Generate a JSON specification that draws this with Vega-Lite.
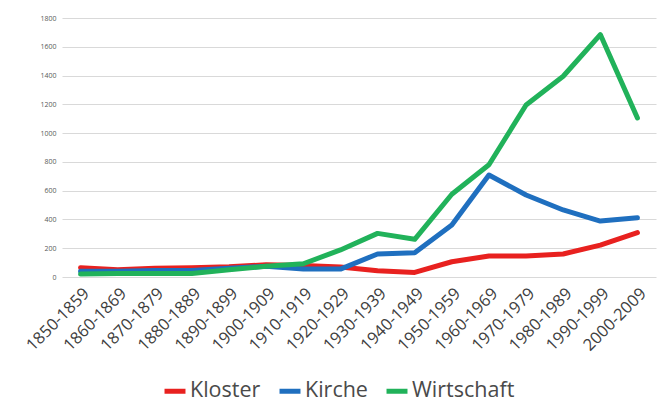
{
  "$schema": "https://vega.github.io/schema/vega-lite/v6.json",
  "width": 594,
  "height": 259,
  "autosize": {"type": "none"},
  "padding": {"left": 62, "top": 18, "right": 8, "bottom": 142},
  "background": "white",
  "config": {
    "view": {"stroke": null},
    "font": "Open Sans"
  },
  "data": {
    "values": [
      {"period": "1850-1859", "series": "Kloster", "value": 65},
      {"period": "1860-1869", "series": "Kloster", "value": 50},
      {"period": "1870-1879", "series": "Kloster", "value": 60},
      {"period": "1880-1889", "series": "Kloster", "value": 65},
      {"period": "1890-1899", "series": "Kloster", "value": 72},
      {"period": "1900-1909", "series": "Kloster", "value": 85},
      {"period": "1910-1919", "series": "Kloster", "value": 80},
      {"period": "1920-1929", "series": "Kloster", "value": 70},
      {"period": "1930-1939", "series": "Kloster", "value": 44},
      {"period": "1940-1949", "series": "Kloster", "value": 32},
      {"period": "1950-1959", "series": "Kloster", "value": 106},
      {"period": "1960-1969", "series": "Kloster", "value": 146},
      {"period": "1970-1979", "series": "Kloster", "value": 146},
      {"period": "1980-1989", "series": "Kloster", "value": 160},
      {"period": "1990-1999", "series": "Kloster", "value": 222},
      {"period": "2000-2009", "series": "Kloster", "value": 308},
      {"period": "1850-1859", "series": "Kirche", "value": 40},
      {"period": "1860-1869", "series": "Kirche", "value": 40},
      {"period": "1870-1879", "series": "Kirche", "value": 45},
      {"period": "1880-1889", "series": "Kirche", "value": 45},
      {"period": "1890-1899", "series": "Kirche", "value": 60},
      {"period": "1900-1909", "series": "Kirche", "value": 75},
      {"period": "1910-1919", "series": "Kirche", "value": 55},
      {"period": "1920-1929", "series": "Kirche", "value": 55},
      {"period": "1930-1939", "series": "Kirche", "value": 160},
      {"period": "1940-1949", "series": "Kirche", "value": 169},
      {"period": "1950-1959", "series": "Kirche", "value": 361},
      {"period": "1960-1969", "series": "Kirche", "value": 709},
      {"period": "1970-1979", "series": "Kirche", "value": 570},
      {"period": "1980-1989", "series": "Kirche", "value": 466},
      {"period": "1990-1999", "series": "Kirche", "value": 389},
      {"period": "2000-2009", "series": "Kirche", "value": 412},
      {"period": "1850-1859", "series": "Wirtschaft", "value": 20},
      {"period": "1860-1869", "series": "Wirtschaft", "value": 25},
      {"period": "1870-1879", "series": "Wirtschaft", "value": 25},
      {"period": "1880-1889", "series": "Wirtschaft", "value": 25},
      {"period": "1890-1899", "series": "Wirtschaft", "value": 50},
      {"period": "1900-1909", "series": "Wirtschaft", "value": 75},
      {"period": "1910-1919", "series": "Wirtschaft", "value": 92},
      {"period": "1920-1929", "series": "Wirtschaft", "value": 188},
      {"period": "1930-1939", "series": "Wirtschaft", "value": 303},
      {"period": "1940-1949", "series": "Wirtschaft", "value": 262},
      {"period": "1950-1959", "series": "Wirtschaft", "value": 575},
      {"period": "1960-1969", "series": "Wirtschaft", "value": 780},
      {"period": "1970-1979", "series": "Wirtschaft", "value": 1195},
      {"period": "1980-1989", "series": "Wirtschaft", "value": 1395},
      {"period": "1990-1999", "series": "Wirtschaft", "value": 1685},
      {"period": "2000-2009", "series": "Wirtschaft", "value": 1105}
    ]
  },
  "mark": {"type": "line", "strokeWidth": 5, "strokeCap": "round", "strokeJoin": "round"},
  "encoding": {
    "x": {
      "field": "period",
      "type": "ordinal",
      "scale": {"type": "point", "padding": 0.5},
      "axis": {
        "title": null,
        "labelAngle": -45,
        "labelFontSize": 16.5,
        "labelColor": "#404040",
        "domain": false,
        "ticks": false,
        "grid": false,
        "labelPadding": 8
      }
    },
    "y": {
      "field": "value",
      "type": "quantitative",
      "scale": {"domain": [0, 1800], "nice": false},
      "axis": {
        "title": null,
        "values": [0, 200, 400, 600, 800, 1000, 1200, 1400, 1600, 1800],
        "format": "d",
        "labelFontSize": 7,
        "labelColor": "#595959",
        "domain": false,
        "ticks": false,
        "labelPadding": 6,
        "gridColor": "#d9d9d9",
        "gridWidth": 1
      }
    },
    "color": {
      "field": "series",
      "type": "nominal",
      "sort": ["Kloster", "Kirche", "Wirtschaft"],
      "scale": {"domain": ["Kloster", "Kirche", "Wirtschaft"], "range": ["#e8211f", "#1f6fbf", "#21b25a"]},
      "legend": {
        "title": null,
        "orient": "none",
        "legendX": 100,
        "legendY": 360,
        "direction": "horizontal",
        "symbolType": "stroke",
        "symbolStrokeWidth": 5,
        "symbolSize": 440,
        "labelFontSize": 21.5,
        "labelColor": "#4a4a4a",
        "columnPadding": 8,
        "labelOffset": 2
      }
    }
  }
}
